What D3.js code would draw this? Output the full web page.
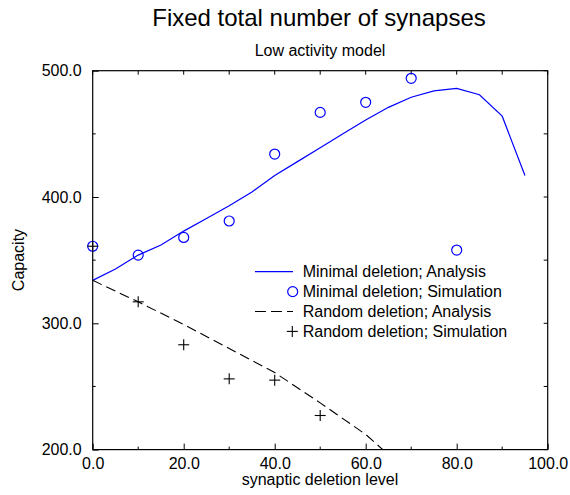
<!DOCTYPE html>
<html>
<head>
<meta charset="utf-8">
<script src="https://cdn.jsdelivr.net/npm/d3@7"></script>
<style>
    body { margin: 0; background: #fff; }
    svg text { font-family: "Liberation Sans", Arial, sans-serif; fill: #000; }
</style>
</head>
<body>
<svg id="chart" width="570" height="495"></svg>
<script>
/* chart data */
const deletionLevels = [0, 5, 10, 15, 20, 25, 30, 35, 40, 45, 50, 55, 60, 65, 70, 75, 80, 85, 90, 95];
const minimalAnalysis = [334, 343, 354, 362, 373, 383, 393, 404, 417, 428, 439, 450, 461, 471, 479, 484, 486, 481, 464, 417];

const minimalSimLevels = [0, 10, 20, 30, 40, 50, 60, 70, 80];
const minimalSimulation = [361, 354, 368, 381, 434, 467, 475, 494, 358];

const randomLevels = [0, 10, 20, 30, 40, 50, 60, 65];
const randomAnalysis = [334, 317, 299, 280, 261, 237, 212, 196];

const randomSimLevels = [0, 10, 20, 30, 40, 50];
const randomSimulation = [361, 317, 283, 256, 255, 227];

const xTicks = [0, 20, 40, 60, 80, 100];
const xMinorTicks = [10, 30, 50, 70, 90];
const yTicks = [200, 300, 400, 500];
const yMinorTicks = [250, 350, 450];

const legendLabels = [
    "Minimal deletion; Analysis",
    "Minimal deletion; Simulation",
    "Random deletion; Analysis",
    "Random deletion; Simulation"
];

const blue = "#0000ff";
const plotLeft = 92.7, plotRight = 547.7, plotTop = 70.7, plotBottom = 449.6;

const svg = d3.select("#chart");

const x = d3.scaleLinear().domain([0, 100]).range([plotLeft, plotRight]);
const y = d3.scaleLinear().domain([200, 500]).range([plotBottom, plotTop]);
const fmt = d3.format(".1f");

svg.append("defs").append("clipPath").attr("id", "plot-clip")
    .append("rect")
    .attr("x", plotLeft).attr("y", plotTop)
    .attr("width", plotRight - plotLeft).attr("height", plotBottom - plotTop);

// titles
svg.append("text")
    .attr("x", 319).attr("y", 26)
    .attr("text-anchor", "middle")
    .style("font-size", "24px")
    .text("Fixed total number of synapses");

svg.append("text")
    .attr("x", 320).attr("y", 56)
    .attr("text-anchor", "middle")
    .style("font-size", "16px")
    .text("Low activity model");

// axes (ticks point inward)
const xAxis = svg.append("g")
    .attr("transform", `translate(0,${plotBottom})`)
    .call(d3.axisBottom(x).tickValues(xTicks).tickFormat(fmt).tickSizeInner(-6).tickSizeOuter(0).tickPadding(8));

const yAxis = svg.append("g")
    .attr("transform", `translate(${plotLeft},0)`)
    .call(d3.axisLeft(y).tickValues(yTicks).tickFormat(fmt).tickSizeInner(-6).tickSizeOuter(0).tickPadding(11));

[xAxis, yAxis].forEach(g => {
    g.select(".domain").remove();
    g.attr("font-family", null).attr("font-size", null);
    g.selectAll("text").style("font-size", "16px");
    g.selectAll("line").attr("stroke", "#000");
});

const ticks = svg.append("g").attr("stroke", "#000").attr("stroke-width", 1);

xMinorTicks.forEach(v => {
    ticks.append("line").attr("x1", x(v)).attr("x2", x(v)).attr("y1", plotBottom).attr("y2", plotBottom - 3);
});
yMinorTicks.forEach(v => {
    ticks.append("line").attr("x1", plotLeft).attr("x2", plotLeft + 3).attr("y1", y(v)).attr("y2", y(v));
});
xTicks.concat(xMinorTicks).forEach(v => {
    ticks.append("line").attr("x1", x(v)).attr("x2", x(v)).attr("y1", plotTop).attr("y2", plotTop + 4);
});
yTicks.concat(yMinorTicks).forEach(v => {
    ticks.append("line").attr("x1", plotRight).attr("x2", plotRight - 4).attr("y1", y(v)).attr("y2", y(v));
});

svg.append("rect")
    .attr("x", plotLeft).attr("y", plotTop)
    .attr("width", plotRight - plotLeft).attr("height", plotBottom - plotTop)
    .attr("fill", "none").attr("stroke", "#000").attr("stroke-width", 1.2);

// axis labels
svg.append("text")
    .attr("x", 320).attr("y", 485)
    .attr("text-anchor", "middle")
    .style("font-size", "16px")
    .text("synaptic deletion level");

svg.append("text")
    .attr("transform", "translate(24,260) rotate(-90)")
    .attr("text-anchor", "middle")
    .style("font-size", "16px")
    .text("Capacity");

// series
const plot = svg.append("g").attr("clip-path", "url(#plot-clip)");
const line = d3.line().x(d => x(d[0])).y(d => y(d[1]));

plot.append("path")
    .datum(d3.zip(deletionLevels, minimalAnalysis))
    .attr("d", line)
    .attr("fill", "none").attr("stroke", blue).attr("stroke-width", 1.2);

plot.append("path")
    .datum(d3.zip(randomLevels, randomAnalysis))
    .attr("d", line)
    .attr("fill", "none").attr("stroke", "#000").attr("stroke-width", 1.1)
    .attr("stroke-dasharray", "10,5");

svg.append("g").selectAll("circle")
    .data(d3.zip(minimalSimLevels, minimalSimulation))
    .join("circle")
    .attr("cx", d => x(d[0])).attr("cy", d => y(d[1]))
    .attr("r", 5)
    .attr("fill", "none").attr("stroke", blue).attr("stroke-width", 1.2);

const plus = (g, cx, cy) => {
    g.append("line").attr("x1", cx - 5.5).attr("x2", cx + 5.5).attr("y1", cy).attr("y2", cy);
    g.append("line").attr("x1", cx).attr("x2", cx).attr("y1", cy - 5.5).attr("y2", cy + 5.5);
};

const pluses = svg.append("g").attr("stroke", "#000").attr("stroke-width", 1.1);
d3.zip(randomSimLevels, randomSimulation).forEach(d => plus(pluses, x(d[0]), y(d[1])));

// legend
const legend = svg.append("g");
const rowY = i => 271.7 + i * 19.9;

legend.append("line")
    .attr("x1", 255).attr("x2", 293).attr("y1", rowY(0)).attr("y2", rowY(0))
    .attr("stroke", blue).attr("stroke-width", 1.2);
legend.append("circle")
    .attr("cx", 292.7).attr("cy", rowY(1)).attr("r", 5)
    .attr("fill", "none").attr("stroke", blue).attr("stroke-width", 1.2);
legend.append("line")
    .attr("x1", 255).attr("x2", 293).attr("y1", rowY(2)).attr("y2", rowY(2))
    .attr("stroke", "#000").attr("stroke-width", 1.1).attr("stroke-dasharray", "11,5");
const legendPlus = legend.append("g").attr("stroke", "#000").attr("stroke-width", 1.1);
plus(legendPlus, 292.3, rowY(3));

legend.selectAll("text")
    .data(legendLabels)
    .join("text")
    .attr("x", 302.7).attr("y", (d, i) => rowY(i))
    .attr("dy", "0.35em")
    .style("font-size", "16px")
    .text(d => d);
</script>
</body>
</html>
